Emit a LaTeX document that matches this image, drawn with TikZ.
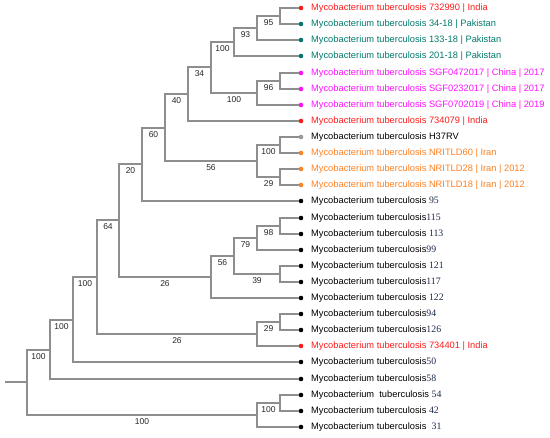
\documentclass[tikz,border=0pt]{standalone}
\usepackage{fontspec}
\setmainfont{Liberation Sans}
\newfontfamily\numfont{Liberation Serif}
\usepackage{tikz}
\usetikzlibrary{positioning}
\definecolor{india}{HTML}{FF1A1A}
\definecolor{pakistan}{HTML}{00796B}
\definecolor{china}{HTML}{FF11FF}
\definecolor{iran}{HTML}{FF8020}
\definecolor{refgray}{HTML}{999999}
\definecolor{branchgray}{HTML}{8E8E8E}
\definecolor{numcol}{HTML}{1B2A48}
\newcommand{\strainno}[1]{{\numfont\color{numcol}\fontsize{9.8}{10}\selectfont #1}}
\newcommand{\mtb}{Mycobacterium tuberculosis}

\begin{document}
\begin{tikzpicture}[x=1pt,y=-1pt,
    branch/.style={draw=branchgray,line width=2.4pt},
    boot/.style={pos=0.75,below=0.6pt,inner sep=1.5pt,font=\fontsize{8.5}{9}\selectfont,text=black!85},
    tip/.style={circle,fill=#1,inner sep=0pt,minimum size=4.6pt},
    strain/.style={inner sep=0pt,font=\fontsize{9.3}{10}\selectfont,text=#1},
    node distance=7.5pt]
\useasboundingbox (0,0) rectangle (550,438);

% leaves
\node[tip=india] (l1) at (301,8) {};
\node[strain=india,right=of l1] (t1) {\mtb{} 732990 | India};
\node[tip=pakistan] (l2) at (301,24) {};
\node[strain=pakistan,right=of l2] (t2) {\mtb{} 34-18 | Pakistan};
\node[tip=pakistan] (l3) at (301,40) {};
\node[strain=pakistan,right=of l3] (t3) {\mtb{} 133-18 | Pakistan};
\node[tip=pakistan] (l4) at (301,56) {};
\node[strain=pakistan,right=of l4] (t4) {\mtb{} 201-18 | Pakistan};
\node[tip=china] (l5) at (301,73) {};
\node[strain=china,right=of l5] (t5) {\mtb{} SGF0472017 | China | 2017};
\node[tip=china] (l6) at (301,89) {};
\node[strain=china,right=of l6] (t6) {\mtb{} SGF0232017 | China | 2017};
\node[tip=china] (l7) at (301,105) {};
\node[strain=china,right=of l7] (t7) {\mtb{} SGF0702019 | China | 2019};
\node[tip=india] (l8) at (301,121) {};
\node[strain=india,right=of l8] (t8) {\mtb{} 734079 | India};
\node[tip=refgray] (l9) at (301,137) {};
\node[strain=black,right=of l9] (t9) {\mtb{} H37RV};
\node[tip=iran] (l10) at (301,153) {};
\node[strain=iran,right=of l10] (t10) {\mtb{} NRITLD60 | Iran};
\node[tip=iran] (l11) at (301,169) {};
\node[strain=iran,right=of l11] (t11) {\mtb{} NRITLD28 | Iran | 2012};
\node[tip=iran] (l12) at (301,185) {};
\node[strain=iran,right=of l12] (t12) {\mtb{} NRITLD18 | Iran | 2012};
\node[tip=black] (l13) at (301,201) {};
\node[strain=black,right=of l13] (t13) {\mtb{} \strainno{95}};
\node[tip=black] (l14) at (301,218) {};
\node[strain=black,right=of l14] (t14) {\mtb\strainno{115}};
\node[tip=black] (l15) at (301,234) {};
\node[strain=black,right=of l15] (t15) {\mtb{} \strainno{113}};
\node[tip=black] (l16) at (301,250) {};
\node[strain=black,right=of l16] (t16) {\mtb\strainno{99}};
\node[tip=black] (l17) at (301,266) {};
\node[strain=black,right=of l17] (t17) {\mtb{} \strainno{121}};
\node[tip=black] (l18) at (301,282) {};
\node[strain=black,right=of l18] (t18) {\mtb\strainno{117}};
\node[tip=black] (l19) at (301,298) {};
\node[strain=black,right=of l19] (t19) {\mtb{} \strainno{122}};
\node[tip=black] (l20) at (301,314) {};
\node[strain=black,right=of l20] (t20) {\mtb\strainno{94}};
\node[tip=black] (l21) at (301,330) {};
\node[strain=black,right=of l21] (t21) {\mtb\strainno{126}};
\node[tip=india] (l22) at (301,346) {};
\node[strain=india,right=of l22] (t22) {\mtb{} 734401 | India};
\node[tip=black] (l23) at (301,362) {};
\node[strain=black,right=of l23] (t23) {\mtb\strainno{50}};
\node[tip=black] (l24) at (301,379) {};
\node[strain=black,right=of l24] (t24) {\mtb\strainno{58}};
\node[tip=black] (l25) at (301,395) {};
\node[strain=black,right=of l25] (t25) {Mycobacterium\ \ tuberculosis \strainno{54}};
\node[tip=black] (l26) at (301,411) {};
\node[strain=black,right=of l26] (t26) {\mtb{} \strainno{42}};
\node[tip=black] (l27) at (301,427) {};
\node[strain=black,right=of l27] (t27) {\mtb\ \ \strainno{31}};

% inner nodes
\coordinate (nA) at (280,16);
\coordinate (nB) at (257,28);
\coordinate (nC) at (234,42);
\coordinate (nD) at (280,81);
\coordinate (nE) at (257,93);
\coordinate (nF) at (211,67);
\coordinate (nG) at (188,94);
\coordinate (nH) at (280,145);
\coordinate (nI) at (280,177);
\coordinate (nJ) at (257,161);
\coordinate (nK) at (165,128);
\coordinate (nL) at (142,164);
\coordinate (nM) at (280,226);
\coordinate (nN) at (257,238);
\coordinate (nO) at (280,274);
\coordinate (nP) at (234,256);
\coordinate (nQ) at (211,277);
\coordinate (nR) at (119,220);
\coordinate (nS) at (280,322);
\coordinate (nT) at (257,334);
\coordinate (nU) at (97,277);
\coordinate (nV) at (73,320);
\coordinate (nW) at (50,350);
\coordinate (nX) at (280,403);
\coordinate (nY) at (257,415);
\coordinate (root) at (27,382);
\coordinate (stub) at (5,382);

% branches
\draw[branch] (stub) -- (root);
\draw[branch] (root) |- node[boot] {100} (nW);
\draw[branch] (root) |- node[boot] {100} (nY);
\draw[branch] (nW) |- node[boot] {100} (nV);
\draw[branch] (nW) |- (l24);
\draw[branch] (nV) |- node[boot] {100} (nU);
\draw[branch] (nV) |- (l23);
\draw[branch] (nU) |- node[boot] {64} (nR);
\draw[branch] (nU) |- node[boot] {26} (nT);
\draw[branch] (nR) |- node[boot] {20} (nL);
\draw[branch] (nR) |- node[boot] {26} (nQ);
\draw[branch] (nL) |- node[boot] {60} (nK);
\draw[branch] (nL) |- (l13);
\draw[branch] (nK) |- node[boot] {40} (nG);
\draw[branch] (nK) |- node[boot] {56} (nJ);
\draw[branch] (nG) |- node[boot] {34} (nF);
\draw[branch] (nG) |- (l8);
\draw[branch] (nF) |- node[boot] {100} (nC);
\draw[branch] (nF) |- node[boot] {100} (nE);
\draw[branch] (nC) |- node[boot] {93} (nB);
\draw[branch] (nC) |- (l4);
\draw[branch] (nB) |- node[boot] {95} (nA);
\draw[branch] (nB) |- (l3);
\draw[branch] (nA) |- (l1);
\draw[branch] (nA) |- (l2);
\draw[branch] (nE) |- node[boot] {96} (nD);
\draw[branch] (nE) |- (l7);
\draw[branch] (nD) |- (l5);
\draw[branch] (nD) |- (l6);
\draw[branch] (nJ) |- node[boot] {100} (nH);
\draw[branch] (nJ) |- node[boot] {29} (nI);
\draw[branch] (nH) |- (l9);
\draw[branch] (nH) |- (l10);
\draw[branch] (nI) |- (l11);
\draw[branch] (nI) |- (l12);
\draw[branch] (nQ) |- node[boot] {56} (nP);
\draw[branch] (nQ) |- (l19);
\draw[branch] (nP) |- node[boot] {79} (nN);
\draw[branch] (nP) |- node[boot] {39} (nO);
\draw[branch] (nN) |- node[boot] {98} (nM);
\draw[branch] (nN) |- (l16);
\draw[branch] (nM) |- (l14);
\draw[branch] (nM) |- (l15);
\draw[branch] (nO) |- (l17);
\draw[branch] (nO) |- (l18);
\draw[branch] (nT) |- node[boot] {29} (nS);
\draw[branch] (nT) |- (l22);
\draw[branch] (nS) |- (l20);
\draw[branch] (nS) |- (l21);
\draw[branch] (nY) |- node[boot] {100} (nX);
\draw[branch] (nY) |- (l27);
\draw[branch] (nX) |- (l25);
\draw[branch] (nX) |- (l26);
\end{tikzpicture}
\end{document}
